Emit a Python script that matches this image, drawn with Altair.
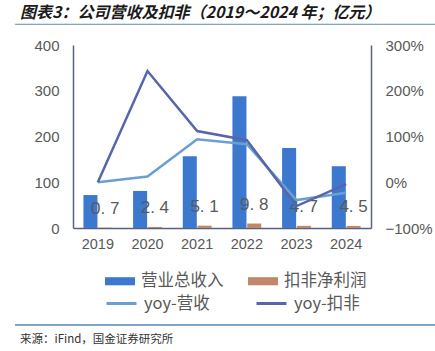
import altair as alt
import pandas as pd

years = ["2019", "2020", "2021", "2022", "2023", "2024"]
revenue = [72, 81, 157, 288, 175, 135]
profit = [0.7, 2.4, 5.1, 9.8, 4.7, 4.5]
yoy_rev = [0.0, 0.125, 0.94, 0.83, -0.39, -0.23]
yoy_np = [0.0, 2.43, 1.12, 0.92, -0.52, -0.04]

bar_series = ["营业总收入", "扣非净利润"]
line_series = ["yoy-营收", "yoy-扣非"]
title_text = "图表3：公司营收及扣非（2019～2024 年；亿元）"
source_text = "来源：iFind，国金证券研究所"
title_line = "─" * 50

bars_df = pd.DataFrame({
    "year": years * 2,
    "series": [bar_series[0]] * 6 + [bar_series[1]] * 6,
    "value": revenue + profit,
})
lab_df = pd.DataFrame({"year": years, "series": [bar_series[1]] * 6, "value": profit})
lines_df = pd.DataFrame({
    "year": years * 2,
    "lseries": [line_series[0]] * 6 + [line_series[1]] * 6,
    "yoy": yoy_rev + yoy_np,
})

NUM = "Liberation Sans"
CJK = "Noto Sans CJK SC"
GRAY = "#595959"
AXC = "#56627F"
RULEC = "#7FA6C4"

xscale = alt.Scale(domain=years, paddingInner=0.42, paddingOuter=0.21)
xaxis = alt.Axis(title=None, labelAngle=0, labelFontSize=14.5, labelColor=GRAY, labelFont=NUM,
                 labelPadding=9, ticks=False, domainColor=AXC, domainWidth=1.5, grid=False)


def xenc(**kw):
    return alt.X("year:N", scale=xscale, axis=xaxis, **kw)


xoff = alt.XOffset("series:N", sort=bar_series, scale=alt.Scale(domain=bar_series, paddingInner=0.05))

bars = alt.Chart(bars_df).mark_bar().encode(
    x=xenc(),
    xOffset=xoff,
    y=alt.Y("value:Q", scale=alt.Scale(domain=[0, 400], nice=False),
            axis=alt.Axis(values=[0, 100, 200, 300, 400], title=None, grid=False, ticks=False,
                          labelFontSize=15, labelFont=NUM, labelColor=GRAY, labelPadding=14,
                          domainColor=AXC, domainWidth=1.5)),
    color=alt.Color("series:N", sort=bar_series,
                    scale=alt.Scale(domain=bar_series, range=["#3B78CE", "#C0876A"]),
                    legend=alt.Legend(title=None, orient="none", legendX=32, legendY=221,
                                      direction="horizontal",
                                      symbolType="M-1,-0.27L1,-0.27L1,0.27L-1,0.27Z",
                                      symbolSize=900, symbolStrokeWidth=0, symbolOpacity=1,
                                      labelFont=CJK, labelFontSize=16.5, labelColor=GRAY,
                                      labelOffset=6, columnPadding=24, padding=0)),
)

labels = alt.Chart(lab_df).transform_calculate(
    lbl="replace(format(datum.value, '.1f'), '.', '. ')"
).mark_text(font=NUM, fontSize=17, color=GRAY, baseline="middle", dy=-19).encode(
    x=xenc(),
    xOffset=xoff,
    y=alt.Y("value:Q", scale=alt.Scale(domain=[0, 400], nice=False), axis=None),
    text="lbl:N",
)

lines = alt.Chart(lines_df).mark_line(strokeWidth=2.5).encode(
    x=xenc(bandPosition=0.5),
    y=alt.Y("yoy:Q", scale=alt.Scale(domain=[-1, 3], nice=False),
            axis=alt.Axis(orient="right", values=[-1, 0, 1, 2, 3], format=".0%", title=None,
                          grid=False, ticks=False, labelFontSize=15, labelFont=NUM,
                          labelColor=GRAY, labelPadding=14, domainColor=AXC, domainWidth=1.5)),
    stroke=alt.Stroke("lseries:N", sort=line_series,
                      scale=alt.Scale(domain=line_series, range=["#6A9FD4", "#5766A8"]),
                      legend=alt.Legend(title=None, orient="none", legendX=32, legendY=242,
                                        direction="horizontal", symbolType="stroke",
                                        symbolSize=900, symbolStrokeWidth=3,
                                        labelFont=CJK, labelFontSize=16.5, labelColor=GRAY,
                                        labelOffset=6, columnPadding=40, padding=0)),
)

one = pd.DataFrame({"k": [0]})
top_line = alt.Chart(one).mark_text(font="DejaVu Sans Mono", fontSize=14, color=RULEC,
                                    align="left", baseline="middle").encode(
    x=alt.value(-58), y=alt.value(-20), text=alt.value(title_line))
bot_rule = alt.Chart(one).mark_rule(color=RULEC, strokeWidth=2).encode(
    x=alt.value(-58), x2=alt.value(362), y=alt.value(280), y2=alt.value(280))
ttl = alt.Chart(one).mark_text(font=CJK, fontSize=16, fontWeight="bold", fontStyle="italic",
                               color="#1a1a1a", align="left", baseline="middle").encode(
    x=alt.value(-53), y=alt.value(-32.5), text=alt.value(title_text))
src = alt.Chart(one).mark_text(font=CJK, fontSize=11.5, color="#333333", align="left",
                               baseline="middle").encode(
    x=alt.value(-53), y=alt.value(294.5), text=alt.value(source_text))

chart = alt.layer(top_line, bot_rule, bars, labels, lines, ttl, src).resolve_scale(
    y="independent"
).properties(
    width=298, height=183,
    autosize=alt.AutoSizeParams(type="none"),
    padding={"left": 73, "top": 45, "right": 64, "bottom": 123},
).configure_view(stroke=None)

chart.save("out.html", embed_options={"renderer": "svg", "actions": False})
